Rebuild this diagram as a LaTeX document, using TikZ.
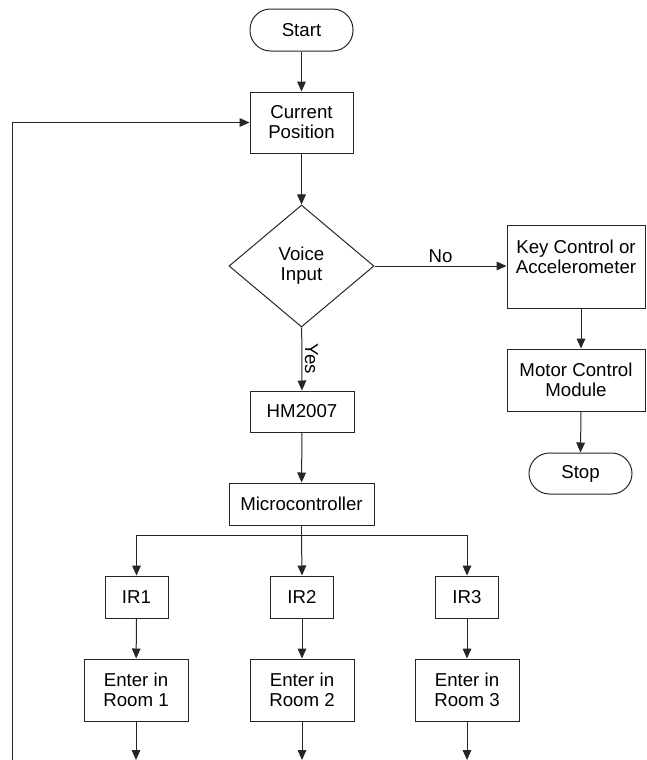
\documentclass[tikz,border=0pt]{standalone}
\usepackage{fontspec}
\setmainfont{Liberation Sans}
\usetikzlibrary{shapes.geometric,arrows.meta}
\begin{document}
\begin{tikzpicture}[x=0.75pt,y=-0.75pt,
  font=\fontsize{14}{15}\selectfont,
  line width=0.75pt,
  box/.style={draw=black!85, rectangle, align=center, inner sep=0pt},
  term/.style={draw=black!85, rectangle, rounded corners=15.4pt, align=center, inner sep=0pt},
  dia/.style={draw=black!85, diamond, align=center, inner sep=0pt},
  ln/.style={draw=black!85},
  arr/.style={draw=black!85, -{Triangle[length=7.5pt,width=6.5pt]}},
  lbl/.style={inner sep=2pt}]
\useasboundingbox (0,0) rectangle (646,760);

\node[term, minimum width=103*0.75pt, minimum height=42*0.75pt] (start) at (301.5,30) {Start};
\node[box, minimum width=103*0.75pt, minimum height=61*0.75pt] (cur) at (301.5,122.5) {Current\\Position};
\node[dia, minimum width=145*0.75pt, minimum height=122*0.75pt] (dec) at (301.5,266) {Voice\\Input};
\node[box, minimum width=138*0.75pt, minimum height=83*0.75pt] (kc) at (576,266.5) {Key Control or\\Accelerometer\\~};
\node[box, minimum width=138*0.75pt, minimum height=62*0.75pt] (mcm) at (576,380) {Motor Control\\Module};
\node[term, minimum width=103*0.75pt, minimum height=41*0.75pt] (stop) at (580.5,473.5) {Stop};
\node[box, minimum width=104*0.75pt, minimum height=41*0.75pt] (hm) at (302,411.5) {HM2007};
\node[box, minimum width=145*0.75pt, minimum height=42*0.75pt] (mc) at (301.5,504) {Microcontroller};

\node[box, minimum width=63*0.75pt, minimum height=42*0.75pt] (ir1) at (136.5,597) {IR1};
\node[box, minimum width=63*0.75pt, minimum height=42*0.75pt] (ir2) at (302,597) {IR2};
\node[box, minimum width=63*0.75pt, minimum height=42*0.75pt] (ir3) at (467,597) {IR3};

\node[box, minimum width=104*0.75pt, minimum height=62*0.75pt] (en1) at (136,690) {Enter in\\Room 1};
\node[box, minimum width=104*0.75pt, minimum height=62*0.75pt] (en2) at (302,690) {Enter in\\Room 2};
\node[box, minimum width=104*0.75pt, minimum height=62*0.75pt] (en3) at (467,690) {Enter in\\Room 3};

\coordinate (o1) at (136,760);
\coordinate (o2) at (302,760);
\coordinate (o3) at (467,760);
\coordinate (fb) at (12,760);

\draw[arr] (start) -- (cur);
\draw[arr] (cur) -- (dec);
\draw[arr] (dec) -- node[midway, rotate=-90, anchor=south, lbl] {Yes} (hm);
\draw[arr] (dec.east) -- node[midway, above, lbl] {No} (dec.east -| kc.west);
\draw[arr] ([xshift=3.75pt]kc.south) -- ([xshift=3.75pt]mcm.north);
\draw[arr] ([xshift=3.75pt]mcm.south) -- (stop.north);
\draw[arr] (hm) -- (mc);
\draw[ln] (mc.south) -- ++(0,10) coordinate (br);
\draw[arr] (br) -| (ir1.north);
\draw[arr] (br) -| (ir3.north);
\draw[arr] (br) -- (ir2.north);
\draw[arr] (ir1) -- (en1);
\draw[arr] (ir2) -- (en2);
\draw[arr] (ir3) -- (en3);
\draw[arr] (en1) -- (o1);
\draw[arr] (en2) -- (o2);
\draw[arr] (en3) -- (o3);
\draw[arr] (fb) |- (cur.west);
\end{tikzpicture}
\end{document}
